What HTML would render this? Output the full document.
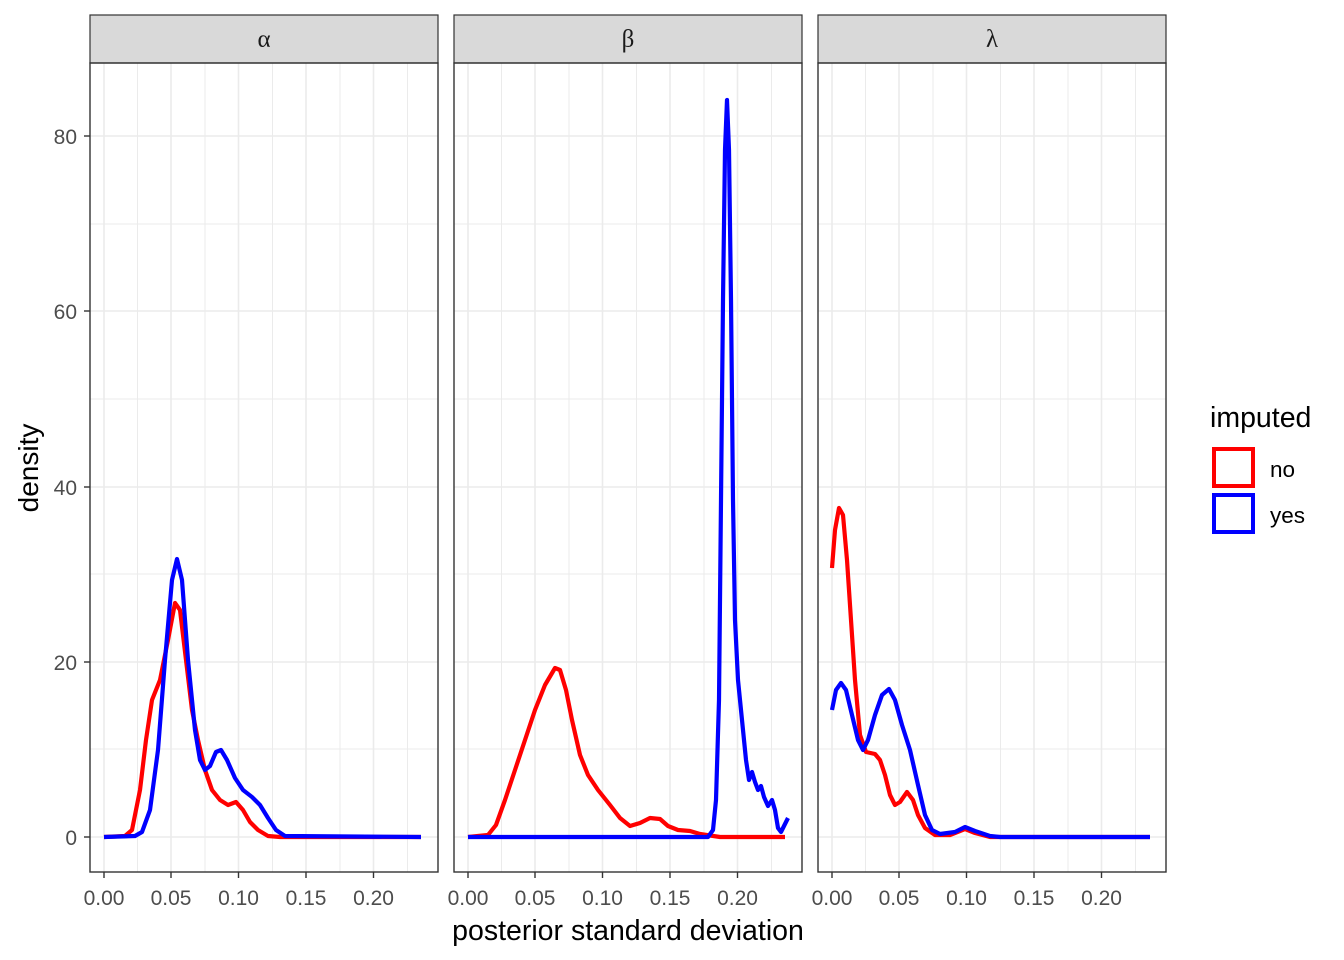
<!DOCTYPE html>
<html><head><meta charset="utf-8"><style>
html,body{margin:0;padding:0;background:#fff;}
svg{display:block;font-family:"Liberation Sans",Arial,sans-serif;}
</style></head><body>
<svg width="1344" height="960" viewBox="0 0 1344 960" xmlns="http://www.w3.org/2000/svg">
<defs>
<g id="grid">
  <g stroke="#ebebeb" stroke-width="1">
    <line x1="0" x2="348" y1="749" y2="749"/><line x1="0" x2="348" y1="574" y2="574"/>
    <line x1="0" x2="348" y1="399" y2="399"/><line x1="0" x2="348" y1="224" y2="224"/>
    <line x1="47.5" x2="47.5" y1="63" y2="872"/><line x1="115" x2="115" y1="63" y2="872"/>
    <line x1="182.5" x2="182.5" y1="63" y2="872"/><line x1="250" x2="250" y1="63" y2="872"/>
    <line x1="317.5" x2="317.5" y1="63" y2="872"/>
  </g>
  <g stroke="#ebebeb" stroke-width="1.6">
    <line x1="0" x2="348" y1="837" y2="837"/><line x1="0" x2="348" y1="662" y2="662"/>
    <line x1="0" x2="348" y1="487" y2="487"/><line x1="0" x2="348" y1="311" y2="311"/>
    <line x1="0" x2="348" y1="136" y2="136"/>
    <line x1="14" x2="14" y1="63" y2="872"/><line x1="81" x2="81" y1="63" y2="872"/>
    <line x1="148.5" x2="148.5" y1="63" y2="872"/><line x1="216" x2="216" y1="63" y2="872"/>
    <line x1="283.5" x2="283.5" y1="63" y2="872"/>
  </g>
  <rect x="0" y="15" width="348" height="48" fill="#d9d9d9" stroke="#333" stroke-width="1.2"/>
  <rect x="0" y="63" width="348" height="809" fill="none" stroke="#333" stroke-width="1.4"/>
  <g stroke="#333" stroke-width="1.4">
    <line x1="14" x2="14" y1="872" y2="878"/><line x1="81" x2="81" y1="872" y2="878"/>
    <line x1="148.5" x2="148.5" y1="872" y2="878"/><line x1="216" x2="216" y1="872" y2="878"/>
    <line x1="283.5" x2="283.5" y1="872" y2="878"/>
  </g>
  <g font-size="21" fill="#4d4d4d" text-anchor="middle">
    <text x="14" y="905">0.00</text><text x="81" y="905">0.05</text><text x="148.5" y="905">0.10</text>
    <text x="216" y="905">0.15</text><text x="283.5" y="905">0.20</text>
  </g>
</g>
</defs>
<use href="#grid" x="90"/>
<use href="#grid" x="454"/>
<use href="#grid" x="818"/>
<g font-family="'Liberation Serif',serif" font-size="25" fill="#1a1a1a" text-anchor="middle">
<text x="264" y="47">α</text><text x="628" y="47">β</text><text x="992" y="47">λ</text>
</g>
<g stroke="#333" stroke-width="1.4">
<line x1="84" x2="90" y1="837" y2="837"/><line x1="84" x2="90" y1="662" y2="662"/>
<line x1="84" x2="90" y1="487" y2="487"/><line x1="84" x2="90" y1="311" y2="311"/>
<line x1="84" x2="90" y1="136" y2="136"/>
</g>
<g font-size="21" fill="#4d4d4d" text-anchor="end">
<text x="77" y="845">0</text><text x="77" y="670">20</text><text x="77" y="495">40</text>
<text x="77" y="319">60</text><text x="77" y="144">80</text>
</g>
<text transform="translate(38,468) rotate(-90)" font-size="28" text-anchor="middle" fill="#000">density</text>
<text x="628" y="940" font-size="28.5" text-anchor="middle" fill="#000">posterior standard deviation</text>
<g fill="none" stroke-width="4.2" stroke-linejoin="round" stroke-linecap="butt">
<path stroke="#ff0000" d="M104,837 L125,836 L132,830 L140,790 L146,740 L152,700 L160,680 L168,640 L175,603 L180,610 L186,660 L192,710 L198,740 L205,770 L212,790 L220,800 L228,805 L236,802 L243,810 L250,822 L258,830 L268,836 L280,837 L421,837"/>
<path stroke="#0000ff" d="M104,837 L135,836 L142,832 L150,810 L158,750 L165,660 L172,580 L177,559 L182,580 L188,660 L195,730 L200,760 L205,770 L210,766 L216,752 L221,750 L227,760 L235,778 L243,790 L252,797 L260,805 L268,818 L276,830 L285,836 L421,837"/>
<path stroke="#ff0000" d="M468,837 L488,835 L496,825 L505,800 L515,770 L525,740 L535,710 L545,685 L555,668 L560,670 L566,690 L572,720 L580,755 L588,775 L598,790 L610,805 L620,818 L630,826 L640,823 L650,818 L660,819 L668,826 L678,830 L690,831 L700,834 L720,837 L785,837"/>
<path stroke="#0000ff" d="M468,837 L708,837 L713,830 L716,800 L719,700 L721,500 L723,300 L725,150 L727,100 L729,150 L731,300 L733,500 L735,620 L738,680 L742,720 L746,760 L749,780 L752,772 L755,782 L758,790 L761,786 L764,797 L768,806 L772,800 L775,810 L778,828 L781,832 L784,826 L788,818"/>
<path stroke="#ff0000" d="M832,568 L835,530 L839,508 L843,515 L847,560 L851,620 L855,680 L860,735 L866,752 L875,754 L880,760 L885,775 L890,795 L895,805 L900,802 L907,792 L913,800 L918,815 L925,828 L935,835 L950,835 L965,829 L975,833 L990,837 L1150,837"/>
<path stroke="#0000ff" d="M832,710 L836,690 L841,683 L846,690 L852,715 L858,740 L863,750 L868,740 L875,715 L882,695 L889,689 L895,700 L902,725 L910,750 L918,785 L925,815 L932,830 L940,834 L955,832 L965,827 L975,831 L990,836 L1000,837 L1150,837"/>
</g>
<text x="1210" y="427" font-size="28.5" fill="#000">imputed</text>
<rect x="1214" y="449" width="39" height="37" fill="none" stroke="#ff0000" stroke-width="4"/>
<rect x="1214" y="495" width="39" height="37" fill="none" stroke="#0000ff" stroke-width="4"/>
<text x="1270" y="477" font-size="22.5" fill="#000">no</text>
<text x="1270" y="523" font-size="22.5" fill="#000">yes</text>
</svg>
</body></html>
